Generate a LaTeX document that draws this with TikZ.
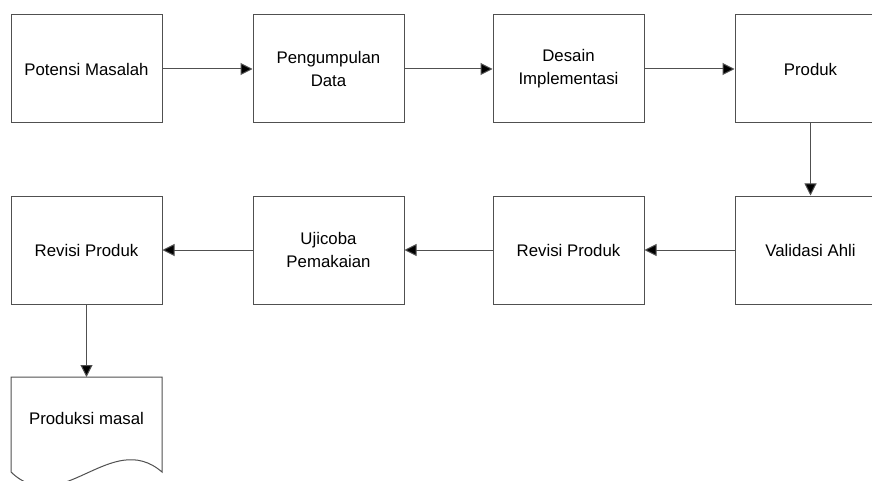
\documentclass[tikz,border=0pt]{standalone}
\usepackage{fontspec}
\setmainfont{Liberation Sans}
\usetikzlibrary{arrows.meta}
\definecolor{boxline}{HTML}{505050}
\begin{document}
\begin{tikzpicture}[x=1pt,y=-1pt,
  stepbox/.style={draw=boxline,line width=1pt,minimum width=151pt,minimum height=108pt,inner sep=0pt,align=center,font=\fontsize{16.8}{23}\selectfont},
  flow/.style={draw=boxline,line width=1pt,-{Triangle[length=12pt,width=12pt,fill=black]}}]
\clip (0,0) rectangle (872,481);
\fill[white] (0,0) rectangle (872,481);
\node[stepbox] (a) at (86.5,69) {Potensi Masalah};
\node[stepbox] (b) at (328.5,69) {Pengumpulan\\Data};
\node[stepbox] (c) at (568.5,69) {Desain\\Implementasi};
\node[stepbox] (d) at (810.5,69) {Produk};
\node[stepbox] (e) at (810.5,250) {Validasi Ahli};
\node[stepbox] (f) at (568.5,250) {Revisi Produk};
\node[stepbox] (g) at (328.5,250) {Ujicoba\\Pemakaian};
\node[stepbox] (h) at (86.5,250) {Revisi Produk};
% document shape
\coordinate (pt) at (86.5,377);
\node[font=\fontsize{16.8}{23}\selectfont] (ptext) at (86.5,418) {Produksi masal};
\draw[boxline,line width=1pt] (11,472) -- (11,377) -- (162,377) -- (162,472)
  .. controls (111,428) and (61,520) .. (11,472);
\draw[flow] (a.east) -- (b.west);
\draw[flow] (b.east) -- (c.west);
\draw[flow] (c.east) -- (d.west);
\draw[flow] (d.south) -- (e.north);
\draw[flow] (e.west) -- (f.east);
\draw[flow] (f.west) -- (g.east);
\draw[flow] (g.west) -- (h.east);
\draw[flow] (h.south) -- (pt);
\end{tikzpicture}
\end{document}
